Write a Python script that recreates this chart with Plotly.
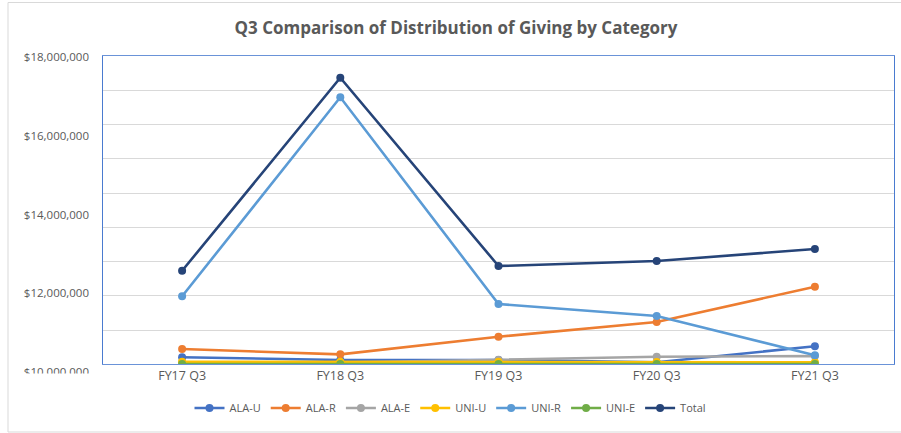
import plotly.graph_objects as go

categories = ["FY17 Q3", "FY18 Q3", "FY19 Q3", "FY20 Q3", "FY21 Q3"]
ala_u = [410000, 250000, 250000, 120000, 1050000]
ala_r = [890000, 580000, 1610000, 2470000, 4530000]
ala_e = [100000, 100000, 270000, 440000, 480000]
uni_u = [150000, 150000, 150000, 130000, 120000]
uni_r = [3970000, 15590000, 3520000, 2820000, 530000]
uni_e = [20000, 20000, 20000, 20000, 20000]
total = [5460000, 16730000, 5740000, 6030000, 6730000]

label_ticks = [10000000, 12000000, 14000000, 16000000, 18000000]
label_text = ["$10,000,000", "$12,000,000", "$14,000,000", "$16,000,000", "$18,000,000"]

series = [
    ("ALA-U", ala_u, "#4472C4"),
    ("ALA-R", ala_r, "#ED7D31"),
    ("ALA-E", ala_e, "#A5A5A5"),
    ("UNI-U", uni_u, "#FFC000"),
    ("UNI-R", uni_r, "#5B9BD5"),
    ("UNI-E", uni_e, "#70AD47"),
    ("Total", total, "#264478"),
]

fig = go.Figure()
for name, vals, col in series:
    fig.add_trace(go.Scatter(
        x=categories, y=vals, name=name, mode="lines+markers",
        line=dict(color=col, width=2.6),
        marker=dict(color=col, size=8),
    ))

# invisible trace to carry the labelled axis
fig.add_trace(go.Scatter(
    x=[categories[0], categories[0]], y=[label_ticks[0], label_ticks[-1]],
    yaxis="y2", mode="lines", line=dict(color="rgba(0,0,0,0)", width=0),
    showlegend=False, hoverinfo="skip",
))

H = 326.0
fig.update_layout(
    template="none",
    width=901, height=433,
    margin=dict(l=103, r=7, t=56, b=51),
    paper_bgcolor="white", plot_bgcolor="rgba(0,0,0,0)",
    font=dict(family="Open Sans, Liberation Sans, sans-serif", color="#595959", size=11),
    title=dict(
        text="<b>Q3 Comparison of Distribution of Giving by Category</b>",
        x=456 / 901, xanchor="center", xref="container",
        y=(433 - 28) / 433, yanchor="middle", yref="container",
        font=dict(size=17, color="#595959"),
    ),
    xaxis=dict(
        type="category", range=[-0.5, 4.5], automargin=False,
        showline=True, linecolor="#6A93D8", linewidth=1.3, mirror=True,
        showgrid=False, ticks="", tickfont=dict(size=12.5, color="#595959"),
        anchor="y", zeroline=False,
    ),
    yaxis=dict(
        range=[0, 18000000], dtick=2000000, tick0=0, automargin=False,
        domain=[(382 - 364.3) / H, 1],
        showticklabels=False, showgrid=True, gridcolor="#D9D9D9", gridwidth=1,
        showline=True, linecolor="#4A7BD0", linewidth=1.3, mirror=True,
        zeroline=False, ticks="",
    ),
    yaxis2=dict(
        range=[18033000 - 326 / 39.34 * 1000000, 18033000], automargin=False,
        domain=[0, 1], anchor="free", position=0, side="left",
        tickvals=label_ticks, ticktext=label_text,
        showgrid=False, zeroline=False, showline=False, ticks="",
        ticklabelstandoff=14,
        tickfont=dict(size=11.5, color="#595959"),
    ),
    legend=dict(
        orientation="h", xref="container", yref="container",
        x=0.50, xanchor="center", y=(433 - 408) / 433, yanchor="middle",
        font=dict(size=11, color="#595959"),
        bgcolor="rgba(0,0,0,0)",
    ),
    shapes=[
        dict(type="rect", xref="paper", yref="paper", layer="above",
             x0=(9 - 103) / 791, x1=(100 - 103) / 791,
             y0=(382 - 382) / H, y1=(382 - 373.5) / H,
             fillcolor="white", line=dict(width=0)),
        dict(type="rect", xref="paper", yref="paper", layer="above",
             x0=(8 - 103) / 791, x1=(905 - 103) / 791,
             y0=(382 - 432) / H, y1=(382 - 2.5) / H,
             fillcolor="rgba(0,0,0,0)", line=dict(color="#D9D9D9", width=1)),
    ],
)

fig.write_html("out.html", config={"displayModeBar": False},
               post_script="document.body.style.margin='0';")
